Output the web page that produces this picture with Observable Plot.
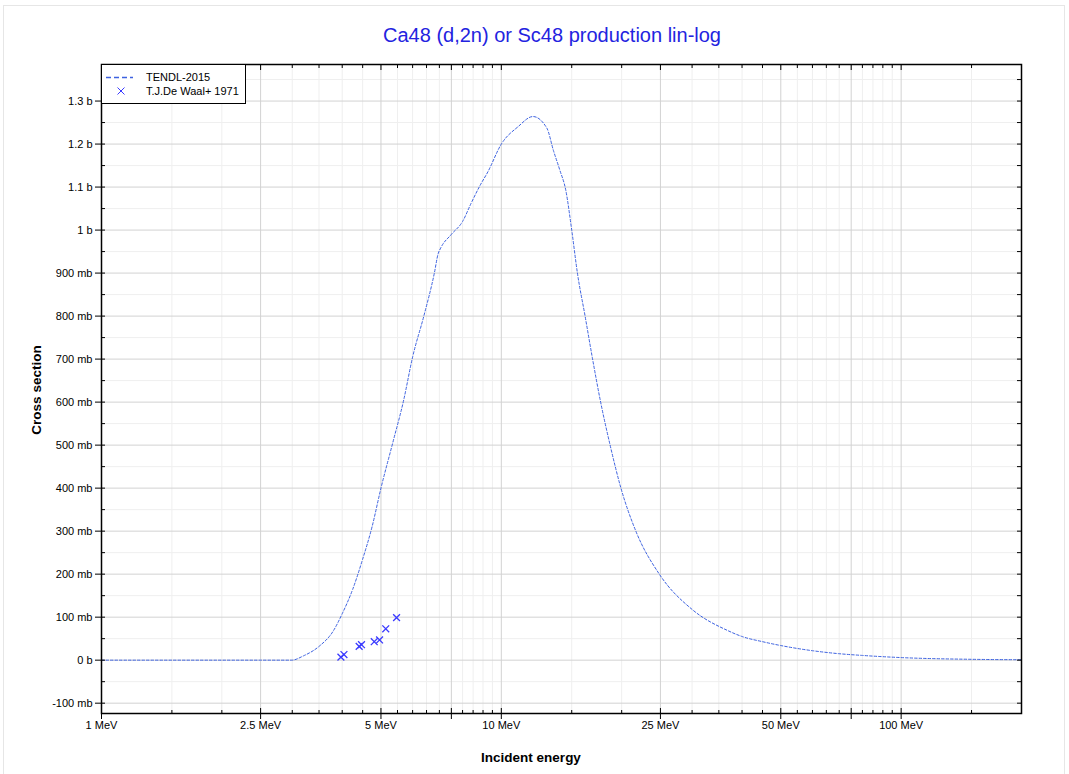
<!DOCTYPE html>
<html>
<head>
<meta charset="utf-8">
<script src="https://cdn.jsdelivr.net/npm/d3@7"></script>
<script src="https://cdn.jsdelivr.net/npm/@observablehq/plot@0.6"></script>
<style>
  body { margin: 0; background: #fff; font-family: "Liberation Sans", Arial, sans-serif; }
  #border { position: absolute; left: 3px; top: 5px; width: 1062px; height: 800px; border: 1px solid #e6e6e6; box-sizing: border-box; }
  #title { position: absolute; left: 0; top: 23px; width: 1104px; text-align: center; font-size: 20px; line-height: 24px; color: #2323e0; }
  #chart { position: absolute; left: 0; top: 50px; }
  #chart svg text { font-size: 11px !important; font-family: "Liberation Sans", Arial, sans-serif !important; }
  #xtitle { position: absolute; left: 431px; top: 749px; width: 200px; text-align: center; font-size: 13.5px; font-weight: bold; line-height: 18px; }
  #ytitle { position: absolute; left: -63px; top: 381px; width: 200px; text-align: center; font-size: 13.5px; font-weight: bold; line-height: 18px; transform: rotate(-90deg); }
  #legend { position: absolute; left: 101px; top: 64px; width: 145px; height: 40px; border: 1px solid #000; background: #fff; box-sizing: border-box; }
  #legend svg { display: block; }
  #legend text { font-family: "Liberation Sans", Arial, sans-serif; font-size: 11px; fill: #000; }
</style>
</head>
<body>
<div id="border"></div>
<div id="title">Ca48 (d,2n) or Sc48 production lin-log</div>
<div id="chart"></div>
<div id="xtitle">Incident energy</div>
<div id="ytitle">Cross section</div>
<div id="legend">
  <svg width="143" height="38">
    <line x1="4" x2="31" y1="12.5" y2="12.5" stroke="#3d62e0" stroke-width="1.5" stroke-dasharray="5,3"></line>
    <text x="44" y="16">TENDL-2015</text>
    <path d="M15.5,22.5 l7,7 m0,-7 l-7,7" stroke="#3a3aff" stroke-width="1" fill="none"></path>
    <text x="44" y="30">T.J.De Waal+ 1971</text>
  </svg>
</div>
<script>
// TENDL-2015 evaluated curve (energy in MeV, cross section in mb)
const tendlE = [1, 1.5, 2, 2.5, 2.99, 3.2, 3.5, 3.8, 4.0, 4.25, 4.5, 4.75, 5.0, 5.35, 5.7, 6.0, 6.4, 6.8, 6.95, 7.05, 7.5, 8.0, 8.4, 8.85, 9.25, 10, 11, 12, 13, 13.5, 14, 14.5, 15, 15.5, 16.2, 16.9, 17.7, 18.7, 19.9, 21.7, 24.8, 30, 36.8, 40, 45, 50, 60, 70, 80, 100, 150, 200];
const tendlXS = [0, 0, 0, 0, 0, 10, 32, 68, 108, 165, 235, 310, 400, 505, 605, 705, 800, 900, 945, 958, 990, 1020, 1062, 1104, 1135, 1200, 1240, 1264, 1237, 1185, 1140, 1092, 1000, 900, 800, 702, 602, 501, 401, 300, 201, 118, 69, 55, 43, 34, 22, 15, 11, 6, 2, 1];

// T.J.De Waal+ 1971 experimental points
const expE = [3.97, 4.04, 4.41, 4.47, 4.81, 4.96, 5.14, 5.47];
const expXS = [7, 13, 32, 36, 43, 47, 73, 99];

// Axis ticks
const xMajor = [1, 2.5, 5, 7.5, 10, 25, 50, 75, 100];
const xLabeled = [1, 2.5, 5, 10, 25, 50, 100];
const xMinor = [1.5, 2, 3, 3.5, 4, 4.5, 5.5, 6, 6.5, 7, 8, 8.5, 9, 9.5, 15, 20, 30, 35, 40, 45, 55, 60, 65, 70, 80, 85, 90, 95, 150];
const yMajor = [-100, 0, 100, 200, 300, 400, 500, 600, 700, 800, 900, 1000, 1100, 1200, 1300];
const yMinor = [-50, 50, 150, 250, 350, 450, 550, 650, 750, 850, 950, 1050, 1150, 1250, 1350];

const tendl = tendlE.map((e, i) => ({e, xs: tendlXS[i]}));
const exp = expE.map((e, i) => ({e, xs: expXS[i]}));

const fmtX = d => xLabeled.includes(d) ? `${d} MeV` : "";
const fmtY = d => d === 0 ? "0 b" : (Math.abs(d) >= 1000 ? `${d / 1000} b` : `${d} mb`);
const blank = () => "";
const font = {fontSize: 11, fill: "#000"};

const chart = Plot.plot({
  width: 1069,
  height: 724,
  marginTop: 14,
  marginBottom: 61,
  marginLeft: 101,
  marginRight: 48,
  style: {fontFamily: "'Liberation Sans', Arial, sans-serif", fontSize: "11px", background: "transparent", color: "#000"},
  x: {type: "log", domain: [1, 200], label: null},
  y: {domain: [-124, 1385], label: null},
  marks: [
    Plot.gridX(xMinor, {stroke: "#efefef", strokeOpacity: 1}),
    Plot.gridY(yMinor, {stroke: "#efefef", strokeOpacity: 1}),
    Plot.gridX(xMajor, {stroke: "#d2d2d2", strokeOpacity: 1}),
    Plot.gridY(yMajor, {stroke: "#d2d2d2", strokeOpacity: 1}),
    Plot.line(tendl, {x: "e", y: "xs", curve: "monotone-x", stroke: "#3d62e0", strokeWidth: 1, strokeDasharray: "2.5,2"}),
    Plot.dot(exp, {x: "e", y: "xs", symbol: "times", r: 3.2, stroke: "#3a3aff", strokeWidth: 1.3}),
    Plot.frame({stroke: "#000", strokeWidth: 1.5}),
    // bottom axis
    Plot.axisX({ticks: xMajor, tickSize: 6, tickPadding: 2, tickFormat: fmtX, label: null, ...font}),
    Plot.axisX({ticks: xMajor, tickSize: -5, tickFormat: blank, label: null}),
    Plot.axisX({ticks: xMinor, tickSize: -3, tickFormat: blank, label: null}),
    // top axis (inward ticks)
    Plot.axisX({anchor: "top", ticks: xMajor, tickSize: -5, tickFormat: blank, label: null}),
    Plot.axisX({anchor: "top", ticks: xMinor, tickSize: -3, tickFormat: blank, label: null}),
    // left axis
    Plot.axisY({ticks: yMajor, tickSize: 6, tickPadding: 3, tickFormat: fmtY, label: null, ...font}),
    Plot.axisY({ticks: yMajor, tickSize: -4, tickFormat: blank, label: null}),
    Plot.axisY({ticks: yMinor, tickSize: -4, tickFormat: blank, label: null}),
    // right axis (inward ticks)
    Plot.axisY({anchor: "right", ticks: yMajor.concat(yMinor), tickSize: -5, tickFormat: blank, label: null})
  ]
});
document.getElementById("chart").appendChild(chart);
</script>
</body>
</html>
